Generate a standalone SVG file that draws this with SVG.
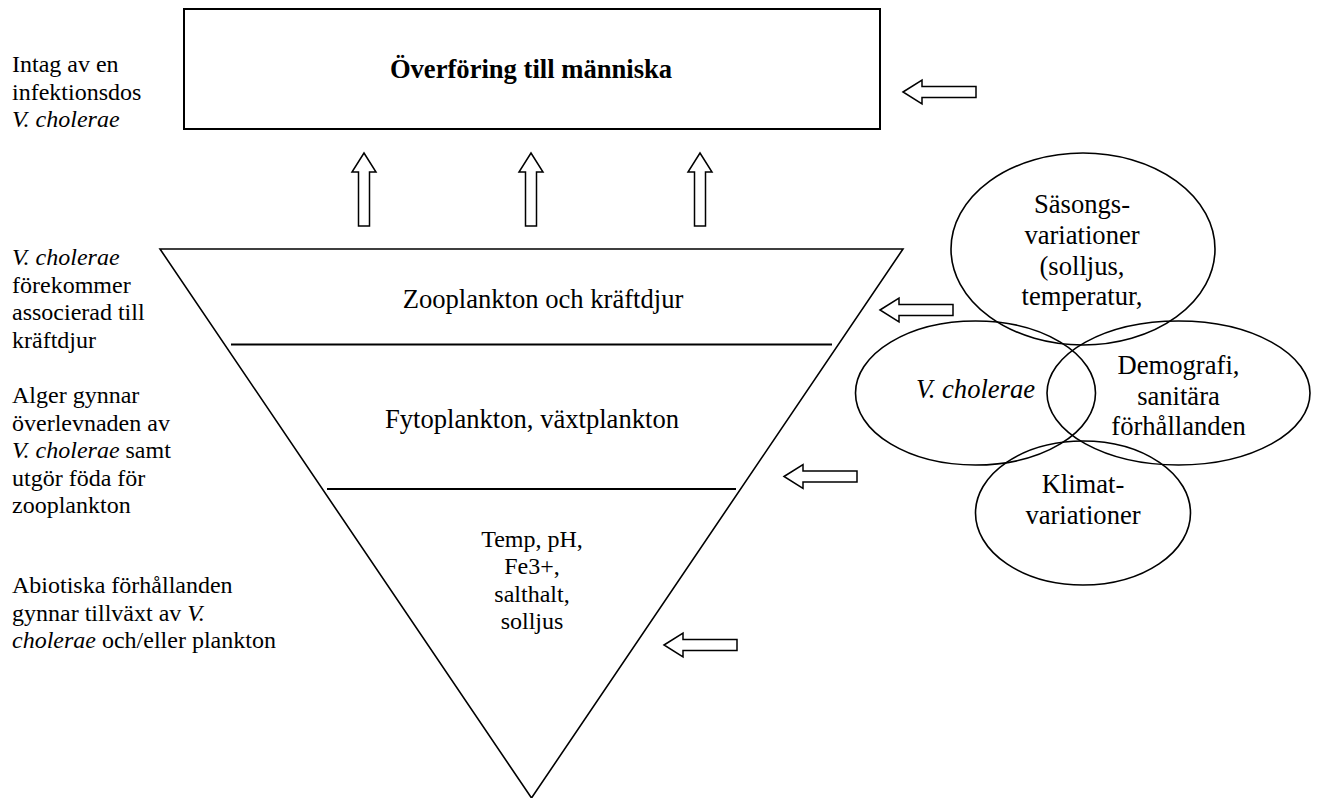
<svg xmlns="http://www.w3.org/2000/svg" xmlns:xlink="http://www.w3.org/1999/xlink" width="1321" height="798" viewBox="0 0 1321 798" font-family="'Liberation Serif','Times New Roman',serif">
<style>
text{font-family:"Liberation Serif","Times New Roman",serif;fill:#000}
.s{font-size:24px}
.m{font-size:26.6px}
.b{font-weight:bold}
.i{font-style:italic}
.c{text-anchor:middle}
.ln{fill:none;stroke:#000;stroke-width:2}
.tri{fill:none;stroke:#000;stroke-width:1.6}
.el{fill:none;stroke:#000;stroke-width:1.6}
.ar{fill:#fff;stroke:#000;stroke-width:1.5;stroke-linejoin:miter}
</style>
<defs>
<path id="larrow" d="M0,0 L19,-12 L19,-5.5 L73,-5.5 L73,5.5 L19,5.5 L19,12 Z"/>
</defs>
<rect width="1321" height="798" fill="#fff"/>

<g id="labels-left">
<text class="s" x="12" y="72">Intag av en</text>
<text class="s" x="12" y="99.5">infektionsdos</text>
<text class="s i" x="12" y="127">V. cholerae</text>
<text class="s i" x="12" y="265">V. cholerae</text>
<text class="s" x="12" y="292.5">förekommer</text>
<text class="s" x="12" y="320">associerad till</text>
<text class="s" x="12" y="347.5">kräftdjur</text>
<text class="s" x="12" y="403">Alger gynnar</text>
<text class="s" x="12" y="430.5">överlevnaden av</text>
<text class="s" x="12" y="458"><tspan class="i">V. cholerae</tspan> samt</text>
<text class="s" x="12" y="485.5">utgör föda för</text>
<text class="s" x="12" y="513">zooplankton</text>
<text class="s" x="12" y="593">Abiotiska förhållanden</text>
<text class="s" x="12" y="620.5">gynnar tillväxt av <tspan class="i">V.</tspan></text>
<text class="s" x="12" y="648"><tspan class="i">cholerae</tspan> och/eller plankton</text>
</g>

<g id="transfer">
<rect class="ln" x="184" y="9" width="696" height="120"/>
<text class="m b c" x="531" y="78">Överföring till människa</text>
</g>

<g id="pyramid">
<polygon class="tri" points="160,249 903,249 531.5,798"/>
<line class="ln" x1="231" y1="344.5" x2="832" y2="344.5"/>
<line class="ln" x1="327" y1="489" x2="736" y2="489"/>
<text class="m c" x="543" y="308">Zooplankton och kräftdjur</text>
<text class="m c" x="532" y="428">Fytoplankton, växtplankton</text>
<text class="s c" x="532" y="546.5">Temp, pH,</text>
<text class="s c" x="532" y="574">Fe3+,</text>
<text class="s c" x="532" y="601.5">salthalt,</text>
<text class="s c" x="532" y="629">solljus</text>
</g>

<g id="seasons">
<ellipse class="el" cx="1083" cy="249" rx="132" ry="96"/>
<text class="m c" x="1082" y="213">Säsongs-</text>
<text class="m c" x="1082" y="244">variationer</text>
<text class="m c" x="1082" y="274.5">(solljus,</text>
<text class="m c" x="1082" y="305">temperatur,</text>
</g>

<g id="vcholerae">
<ellipse class="el" cx="975.5" cy="393" rx="120" ry="72"/>
<text class="m i c" x="975.5" y="398">V. cholerae</text>
</g>

<g id="demography">
<ellipse class="el" cx="1178.5" cy="393" rx="131.5" ry="72"/>
<text class="m c" x="1178.5" y="374">Demografi,</text>
<text class="m c" x="1178.5" y="404.5">sanitära</text>
<text class="m c" x="1178.5" y="435">förhållanden</text>
</g>

<g id="climate">
<ellipse class="el" cx="1083" cy="513" rx="107.5" ry="72"/>
<text class="m c" x="1083" y="493">Klimat-</text>
<text class="m c" x="1083" y="523.5">variationer</text>
</g>

<g id="connectors">
<use xlink:href="#larrow" href="#larrow" class="ar" transform="translate(903,92)"/>
<use xlink:href="#larrow" href="#larrow" class="ar" transform="translate(364,153) rotate(90)"/>
<use xlink:href="#larrow" href="#larrow" class="ar" transform="translate(531,153) rotate(90)"/>
<use xlink:href="#larrow" href="#larrow" class="ar" transform="translate(700,153) rotate(90)"/>
<use xlink:href="#larrow" href="#larrow" class="ar" transform="translate(880,310)"/>
<use xlink:href="#larrow" href="#larrow" class="ar" transform="translate(784,476.5)"/>
<use xlink:href="#larrow" href="#larrow" class="ar" transform="translate(664,645)"/>
</g>
</svg>
